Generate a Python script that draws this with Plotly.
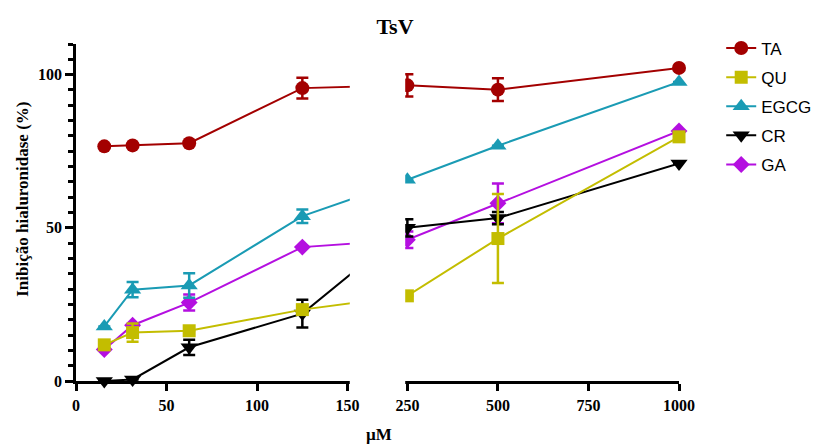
import plotly.graph_objects as go

# Concentrations (µM) and % hyaluronidase inhibition for each compound
conc = [15.625, 31.25, 62.5, 125, 250, 500, 1000]

ta = [76.6, 76.9, 77.6, 95.6, 96.5, 95.1, 102.2]
ta_err = [None, None, None, 3.4, 3.6, 3.7, None]

qu = [11.8, 15.8, 16.4, 23.3, 27.8, 46.5, 79.7]
qu_err = [None, 3.0, None, None, None, 14.5, None]

egcg = [17.8, 29.8, 31.2, 53.8, 65.7, 76.8, 97.6]
egcg_err = [None, 2.5, 4.0, 2.2, None, None, None]

cr = [0.0, 0.5, 11.0, 22.0, 50.0, 53.2, 71.0]
cr_err = [None, None, 2.5, 4.5, 2.8, 2.0, None]

ga = [10.3, 18.2, 25.6, 43.7, 46.1, 58.0, 81.6]
ga_err = [None, None, 2.6, None, 2.7, 6.5, None]

x_ticks_left = [0, 50, 100, 150]
x_ticks_right = [250, 500, 750, 1000]
y_ticks = [0, 50, 100]

# Broken x axis: 0-150 on the left segment, 250-1000 (compressed 5x) on the right
LEFT_MAX = 150
RIGHT_MIN = 250
GAP = 33
RIGHT_SCALE = 0.2


def axis_pos(v):
    if v <= LEFT_MAX:
        return v
    return LEFT_MAX + GAP + (v - RIGHT_MIN) * RIGHT_SCALE


xd = [axis_pos(v) for v in conc]
x_end = axis_pos(x_ticks_right[-1])

series = [
    # name, values, errors, colour, symbol, size, legend rank
    ("GA", ga, ga_err, "#B40FE0", "diamond", 13, 5),
    ("CR", cr, cr_err, "#000000", "triangle-down", 15, 4),
    ("EGCG", egcg, egcg_err, "#1A9BB4", "triangle-up", 15, 3),
    ("TA", ta, ta_err, "#A30000", "circle", 14, 1),
    ("QU", qu, qu_err, "#C3BD00", "square", 13, 2),
]

fig = go.Figure()
for name, vals, err, color, symbol, size, rank in series:
    fig.add_trace(go.Scatter(
        x=xd, y=vals, name=name, mode="lines+markers",
        line=dict(color=color, width=2),
        marker=dict(symbol=symbol, size=size, color=color, line=dict(width=0)),
        error_y=dict(type="data", array=err, visible=True, color=color,
                     thickness=2.5, width=6),
        cliponaxis=False, legendrank=rank, legendgroup=name,
    ))

serif = "Liberation Serif"

fig.update_layout(
    width=816, height=444,
    margin=dict(l=76, r=137, t=44, b=63, autoexpand=False),
    plot_bgcolor="white", paper_bgcolor="white",
    showlegend=True,
    title=dict(text="<b>TsV</b>", x=0.529, xref="paper", xanchor="center",
               y=0.94, yanchor="middle",
               font=dict(family=serif, size=22, color="black")),
    legend=dict(x=1.07, xanchor="left", y=1.04, yanchor="top",
                font=dict(family="Liberation Sans", size=17, color="black"),
                tracegroupgap=4, itemwidth=30, bgcolor="rgba(0,0,0,0)"),
    xaxis=dict(
        range=[0, x_end], showgrid=False, zeroline=False,
        showline=True, linecolor="black", linewidth=2.5,
        ticks="outside", ticklen=7, tickwidth=2.5, tickcolor="black",
        tickvals=[axis_pos(v) for v in x_ticks_left + x_ticks_right],
        ticktext=[f"<b>{v}</b>" for v in x_ticks_left + x_ticks_right],
        tickfont=dict(family=serif, size=16, color="black"),
        ticklabelstandoff=1,
    ),
    yaxis=dict(
        range=[0, 110], showgrid=False, zeroline=False,
        showline=True, linecolor="black", linewidth=2.5,
        ticks="outside", ticklen=8, tickwidth=2.5, tickcolor="black",
        tickvals=y_ticks, ticktext=[f"<b>{v}</b>" for v in y_ticks],
        tickfont=dict(family=serif, size=16, color="black"),
        minor=dict(dtick=5, ticks="outside", ticklen=5, tickwidth=2.5,
                   tickcolor="black", showgrid=False),
    ),
)

# Blank the axis gap between the two x segments
fig.add_shape(type="rect", xref="x", yref="paper",
              x0=LEFT_MAX + 1.2, x1=LEFT_MAX + GAP - 1.2, y0=-0.016, y1=1.0,
              fillcolor="white", line=dict(width=0), layer="above")

fig.add_annotation(text="<b>Inibição hialuronidase (%)</b>", textangle=-90,
                   xref="paper", yref="paper", x=-0.09, y=0.54,
                   xanchor="center", yanchor="middle", showarrow=False,
                   font=dict(family=serif, size=17, color="black"))
fig.add_annotation(text="<b>µM</b>", xref="paper", yref="paper",
                   x=0.502, y=-0.16, xanchor="center", yanchor="middle",
                   showarrow=False,
                   font=dict(family=serif, size=17, color="black"))

fig.write_html("out.html")
